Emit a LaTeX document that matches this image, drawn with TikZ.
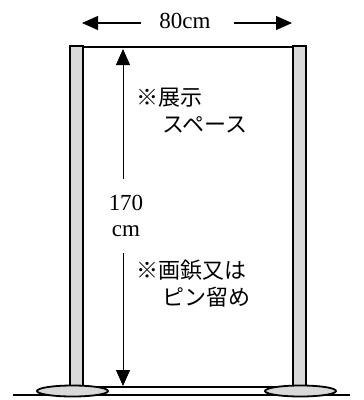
\documentclass[tikz,border=0pt]{standalone}
\usepackage{fontspec}
\setmainfont{Liberation Serif}
\newfontfamily\jfont{Noto Sans CJK JP}
\usetikzlibrary{arrows.meta}
\begin{document}
\begin{tikzpicture}[x=1pt,y=-1pt,
  post/.style={draw=black,line width=1.8pt,fill=black!15},
  foot/.style={draw=black,line width=1.8pt,fill=black!15},
  dim/.style={-{Triangle[length=16pt,width=14pt]}},
  num/.style={inner sep=0pt,font=\fontsize{23}{23}\selectfont},
  jtxt/.style={inner sep=0pt,anchor=west,font=\jfont\fontsize{22}{22}\selectfont}]
\useasboundingbox (0,0) rectangle (364,400);
% ground
\draw[line width=1.2pt] (13,395) coordinate (g1) -- (350,395) coordinate (g2);
% panel
\draw[line width=1.8pt] (76,47) rectangle (299,387);
% posts
\draw[post] (70,46) rectangle (83,389);
\draw[post] (293,46) rectangle (306,389);
% feet
\draw[foot] (72.5,391) ellipse [x radius=35.5,y radius=5.5];
\draw[foot] (300.5,391) ellipse [x radius=35.5,y radius=5.5];
% width dimension
\node[num] (w) at (185,21) {80cm};
\coordinate (wl) at (82,23);
\coordinate (wr) at (292,23);
\coordinate (wla) at (141,23);
\coordinate (wra) at (234,23);
\draw[dim,line width=1.2pt] (wla) -- (wl);
\draw[dim,line width=1.2pt] (wra) -- (wr);
% height dimension
\node[num] (h1) at (126,203) {170};
\node[num] (h2) at (126,231) {cm};
\coordinate (ht) at (123,49);
\coordinate (hb) at (123,386);
\coordinate (hta) at (123,179);
\coordinate (hba) at (123,253);
\draw[dim,line width=0.8pt] (hta) -- (ht);
\draw[dim,line width=0.8pt] (hba) -- (hb);
% texts
\node[jtxt] (t1) at (136,98) {※展示};
\node[jtxt] (t2) at (162,125) {スペース};
\node[jtxt] (t3) at (136,270) {※画鋲又は};
\node[jtxt] (t4) at (162,297) {ピン留め};
\end{tikzpicture}
\end{document}
